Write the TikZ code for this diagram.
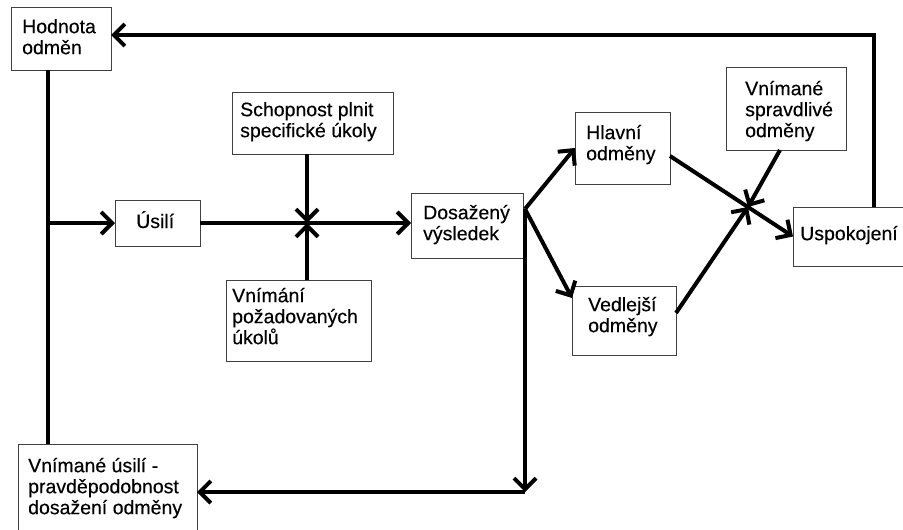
\documentclass[tikz,border=0pt]{standalone}
\usepackage{fontspec}
\setmainfont{Liberation Sans}[FakeBold=0.3]
\usetikzlibrary{arrows.meta,calc}
\begin{document}
\begin{tikzpicture}[x=1pt,y=-1pt,
 box/.style={draw=black!75, line width=1pt, inner sep=0pt, outer sep=0pt, anchor=north west},
 txt/.style={inner sep=0pt, anchor=north west, align=left, font=\fontsize{19.5}{21}\selectfont},
 conn/.style={line width=4pt, black},
 arr/.style={conn, -{Straight Barb[length=11pt,width=22pt]}}]
\useasboundingbox (0,0) rectangle (903,530);
\clip (0,0) rectangle (903,530);
\fill[white] (0,0) rectangle (903,530);
% boxes
\node[box, minimum width=100pt, minimum height=63pt] (hod) at (11,7) {};
\node[box, minimum width=85pt, minimum height=46pt] (usi) at (115,200) {};
\node[box, minimum width=161pt, minimum height=62pt] (sch) at (232,92) {};
\node[box, minimum width=145pt, minimum height=81pt] (vni) at (226,280) {};
\node[box, minimum width=112pt, minimum height=65pt] (dos) at (411,193) {};
\node[box, minimum width=95pt, minimum height=72pt] (hla) at (575,112) {};
\node[box, minimum width=104pt, minimum height=69pt] (ved) at (572,286) {};
\node[box, minimum width=120pt, minimum height=83pt] (spr) at (726,67) {};
\node[box, minimum width=112pt, minimum height=59pt] (usp) at (793,207) {};
\node[box, minimum width=179pt, minimum height=92pt] (vus) at (18,444) {};
% texts
\node[txt] (hodt) at (22,18.3) {\strut Hodnota\\odměn};
\node[txt, anchor=base west] (usit) at (136,228) {Úsilí};
\node[txt] (scht) at (240,101.3) {\strut Schopnost plnit\\specifické úkoly};
\node[txt] (vnit) at (232,287.3) {\strut Vnímání\\požadovaných\\úkolů};
\node[txt] (dost) at (423,204.3) {\strut Dosažený\\výsledek};
\node[txt] (hlat) at (586,124.3) {\strut Hlavní\\odměny};
\node[txt] (vedt) at (588,296.3) {\strut Vedlejší\\odměny};
\node[txt] (sprt) at (745,80.3) {\strut Vnímané\\spravdlivé\\odměny};
\node[txt] (uspt) at (800,225.3) {\strut Uspokojení};
\node[txt] (vust) at (28,457.3) {\strut Vnímané úsilí -\\pravděpodobnost\\dosažení odměny};
% connectors
\coordinate (tr) at (874,35);
\draw[arr] (usp.north -| tr) -- (tr) -- (tr -| hod.east);
\coordinate (lx) at (48,223);
\draw[conn] (hod.south -| lx) -- (vus.north -| lx);
\draw[arr] (lx) -- (lx -| usi.west);
\coordinate (c1) at (307,223);
\draw[arr] (usi.east |- c1) -- (c1 -| dos.west);
\draw[arr] (sch.south -| c1) -- (c1);
\draw[arr] (vni.north -| c1) -- (c1);
\coordinate (d1) at (525,209);
\coordinate (br) at (525,492);
\draw[arr] (d1) -- (br);
\draw[arr] (br) -- (br -| vus.east);
\draw[arr] (d1) -- (hla.west);
\draw[arr] (d1) -- ($(ved.north west)+(0,12)$);
\coordinate (c2) at (748,207);
\draw[arr] ($(hla.east)+(0,8)$) -- (usp.west);
\draw[arr] ($(spr.south west)+(54,0)$) -- (c2);
\draw[arr] ($(ved.east)+(0,-7.5)$) -- (c2);
\end{tikzpicture}
\end{document}
